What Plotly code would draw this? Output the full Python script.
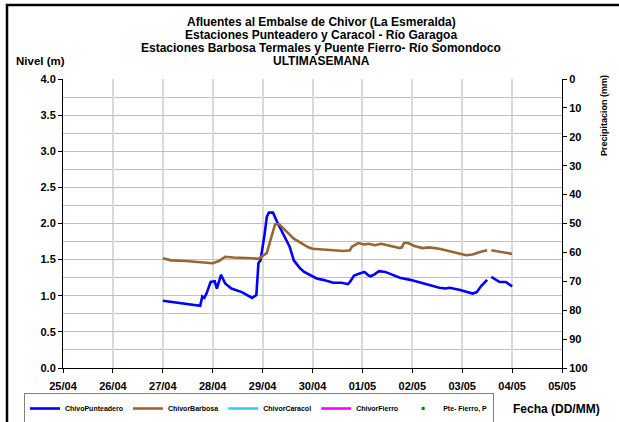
import plotly.graph_objects as go

# Niveles horarios (m) - estación Punteadero
t_punteadero = [
    "2012-04-27 00:00", "2012-04-27 07:00", "2012-04-27 13:00", "2012-04-27 18:00",
    "2012-04-27 19:00", "2012-04-27 20:00", "2012-04-27 21:00", "2012-04-27 23:00",
    "2012-04-28 01:00", "2012-04-28 02:00", "2012-04-28 04:00", "2012-04-28 06:00",
    "2012-04-28 09:00", "2012-04-28 14:00", "2012-04-28 19:00", "2012-04-28 21:00",
    "2012-04-28 22:00", "2012-04-28 23:00", "2012-04-29 01:00", "2012-04-29 02:00",
    "2012-04-29 03:00", "2012-04-29 05:00", "2012-04-29 07:00", "2012-04-29 10:00",
    "2012-04-29 13:00", "2012-04-29 15:00", "2012-04-29 18:00", "2012-04-29 20:00",
    "2012-04-29 23:00", "2012-04-30 02:00", "2012-04-30 05:00", "2012-04-30 10:00",
    "2012-04-30 14:00", "2012-04-30 17:00", "2012-04-30 18:00", "2012-04-30 20:00",
    "2012-04-30 23:00", "2012-05-01 01:00", "2012-05-01 03:00", "2012-05-01 04:00",
    "2012-05-01 06:00", "2012-05-01 08:00", "2012-05-01 11:00", "2012-05-01 15:00",
    "2012-05-01 18:00", "2012-05-01 23:00", "2012-05-02 03:00", "2012-05-02 08:00",
    "2012-05-02 13:00", "2012-05-02 16:00", "2012-05-02 18:00", "2012-05-02 23:00",
    "2012-05-03 02:00", "2012-05-03 05:00", "2012-05-03 07:00", "2012-05-03 09:00",
    "2012-05-03 12:00", "2012-05-03 13:00", "2012-05-03 14:00", "2012-05-03 17:00",
    "2012-05-03 18:00", "2012-05-03 21:00", "2012-05-04 00:00",
]
nivel_punteadero = [
    0.93, 0.90, 0.88, 0.86,
    0.99, 0.97, 1.03, 1.19,
    1.20, 1.10, 1.29, 1.17,
    1.10, 1.05, 0.97, 1.01,
    1.45, 1.49, 1.86, 2.09,
    2.15, 2.15, 2.02, 1.86,
    1.68, 1.49, 1.38, 1.33,
    1.28, 1.24, 1.22, 1.18,
    1.18, 1.16, 1.19, 1.28,
    1.31, 1.33, 1.28, 1.27,
    1.30, 1.34, 1.33, 1.28,
    1.25, 1.22, 1.19, 1.15,
    1.11, 1.10, 1.11, 1.08,
    1.05, 1.03, 1.05, 1.13,
    1.22, None, 1.26, 1.20,
    1.19, 1.19, 1.13,
]

# Niveles horarios (m) - estación Barbosa
t_barbosa = [
    "2012-04-27 00:00", "2012-04-27 04:00", "2012-04-27 11:00", "2012-04-27 19:00",
    "2012-04-28 00:00", "2012-04-28 03:00", "2012-04-28 06:00", "2012-04-28 10:00",
    "2012-04-28 14:00", "2012-04-28 19:00", "2012-04-28 22:00", "2012-04-29 02:00",
    "2012-04-29 04:00", "2012-04-29 06:00", "2012-04-29 08:00", "2012-04-29 11:00",
    "2012-04-29 15:00", "2012-04-29 19:00", "2012-04-29 22:00", "2012-04-30 00:00",
    "2012-04-30 06:00", "2012-04-30 11:00", "2012-04-30 15:00", "2012-04-30 18:00",
    "2012-04-30 19:00", "2012-04-30 22:00", "2012-05-01 01:00", "2012-05-01 03:00",
    "2012-05-01 06:00", "2012-05-01 09:00", "2012-05-01 13:00", "2012-05-01 18:00",
    "2012-05-01 19:00", "2012-05-01 20:00", "2012-05-01 22:00", "2012-05-02 01:00",
    "2012-05-02 05:00", "2012-05-02 08:00", "2012-05-02 13:00", "2012-05-02 18:00",
    "2012-05-02 23:00", "2012-05-03 02:00", "2012-05-03 05:00", "2012-05-03 09:00",
    "2012-05-03 11:00", "2012-05-03 12:00", "2012-05-03 13:00", "2012-05-03 14:00",
    "2012-05-03 18:00", "2012-05-04 00:00",
]
nivel_barbosa = [
    1.52, 1.49, 1.48, 1.46,
    1.45, 1.48, 1.54, 1.53,
    1.53, 1.52, 1.51, 1.59,
    1.79, 1.99, 1.99, 1.90,
    1.79, 1.72, 1.67, 1.65,
    1.64, 1.63, 1.62, 1.63,
    1.68, 1.73, 1.71, 1.72,
    1.70, 1.72, 1.69, 1.66,
    1.67, 1.73, 1.73, 1.69,
    1.66, 1.67, 1.65, 1.61,
    1.58, 1.56, 1.57, 1.61,
    1.62, 1.63, None, 1.63,
    1.61, 1.58,
]

# Series sin registros en el periodo
t_sin_dato = ["2012-04-27 00:00"]
sin_dato = [None]

titulo = [
    "Afluentes al Embalse de Chivor (La Esmeralda)",
    "Estaciones Punteadero y Caracol - Río Garagoa",
    "Estaciones Barbosa Termales y Puente Fierro- Río Somondoco",
    "ULTIMASEMANA",
]

FONT = "Liberation Sans, Arial, sans-serif"
bold = dict(family=FONT, color="black", weight="bold")

# área de trazado: x 63..562 px, y 79..368 px
PX0, PW, PY0, PH = 63, 499, 368, 289


def px(x):
    return (x - PX0) / PW


def py(y):
    return (PY0 - y) / PH


fig = go.Figure()
fig.add_trace(go.Scatter(x=t_punteadero, y=nivel_punteadero, mode="lines",
                         name="ChivoPunteadero", line=dict(color="#0000FF", width=2.6)))
fig.add_trace(go.Scatter(x=t_barbosa, y=nivel_barbosa, mode="lines",
                         name="ChivorBarbosa", line=dict(color="#996633", width=2.6)))
fig.add_trace(go.Scatter(x=t_sin_dato, y=sin_dato, mode="lines", name="ChivorCaracol",
                         line=dict(color="#33CCFF", width=2.6)))
fig.add_trace(go.Scatter(x=t_sin_dato, y=sin_dato, mode="lines", name="ChivorFierro",
                         line=dict(color="#FF00FF", width=2.6)))
fig.add_trace(go.Scatter(x=t_sin_dato, y=sin_dato, mode="markers", name="Pte- Fierro, P",
                         yaxis="y2", marker=dict(color="#008000", size=3, symbol="square")))

for i, linea in enumerate(titulo):
    fig.add_annotation(text=linea, xref="paper", yref="paper", x=px(321), y=py(22 + 13 * i),
                       showarrow=False, xanchor="center", yanchor="middle",
                       font=dict(size=12, **bold))

fig.add_annotation(text="Nivel (m)", xref="paper", yref="paper", x=px(40), y=py(61),
                   showarrow=False, xanchor="center", yanchor="middle", font=dict(size=11.5, **bold))
fig.add_annotation(text="Precipitacion (mm)", xref="paper", yref="paper", x=px(604), y=py(116),
                   textangle=-90, showarrow=False, xanchor="center", yanchor="middle",
                   font=dict(size=9, **bold))
fig.add_annotation(text="Fecha (DD/MM)", xref="paper", yref="paper", x=px(556), y=py(409),
                   showarrow=False, xanchor="center", yanchor="middle", font=dict(size=12, **bold))

# marco exterior del gráfico
fig.add_shape(type="rect", xref="paper", yref="paper", x0=px(7), x1=1.3,
              y0=-0.5, y1=py(5), line=dict(color="black", width=2.5))

fig.update_layout(
    width=619, height=422,
    margin=dict(l=63, r=57, t=79, b=54, autoexpand=False),
    paper_bgcolor="white", plot_bgcolor="white",
    font=dict(family=FONT, size=11, color="black"),
    xaxis=dict(
        type="date", range=["2012-04-25", "2012-05-05"], dtick=86400000, tickformat="%d/%m",
        showgrid=True, gridcolor="#d9d9d9", gridwidth=2,
        showline=True, linecolor="black", linewidth=1, ticks="outside", ticklen=4,
        tickcolor="black", tickfont=dict(size=11, **bold), ticklabelstandoff=4, zeroline=False,
    ),
    yaxis=dict(
        range=[0, 4], dtick=0.5, tickformat=".1f", showgrid=True, gridcolor="#c0c0c0", gridwidth=1,
        minor=dict(dtick=0.25, showgrid=True, gridcolor="#c0c0c0", gridwidth=1),
        showline=True, linecolor="black", linewidth=1, ticks="outside", ticklen=4,
        tickcolor="black", tickfont=dict(size=11, **bold), zeroline=False,
    ),
    yaxis2=dict(
        overlaying="y", side="right", range=[100, 0], dtick=10, showgrid=False,
        showline=True, linecolor="black", linewidth=1, ticks="outside", ticklen=4,
        tickcolor="black", tickfont=dict(size=11, **bold), zeroline=False,
    ),
    legend=dict(
        orientation="h", x=px(24), y=py(393), xanchor="left", yanchor="top",
        bordercolor="#808080", borderwidth=1, font=dict(size=7, **bold),
        itemwidth=30, bgcolor="white", tracegroupgap=0,
    ),
    showlegend=True,
)

fig.write_html("out.html")
